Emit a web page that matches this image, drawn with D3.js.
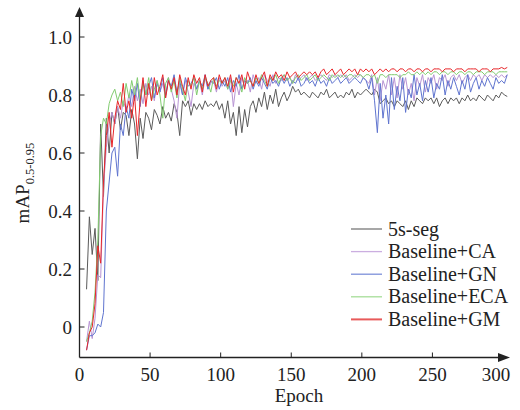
<!DOCTYPE html>
<html>
<head>
<meta charset="utf-8">
<script src="https://cdn.jsdelivr.net/npm/d3@7"></script>
<style>
  body { margin: 0; background: #fff; }
</style>
</head>
<body>
<div id="vis"></div>
<script>
// epochs sampled every 2, from 5 to 303
const epochs = d3.range(5, 304, 2);

const seg = [
  0.13, 0.38, 0.25, 0.34, 0.16, 0.70, 0.45, 0.72, 0.60, 0.74,
  0.70, 0.76, 0.68, 0.74, 0.73, 0.66, 0.75, 0.70, 0.58, 0.72,
  0.65, 0.74, 0.72, 0.68, 0.75, 0.73, 0.70, 0.76, 0.72, 0.74,
  0.71, 0.77, 0.74, 0.66, 0.78, 0.76, 0.78, 0.73, 0.77, 0.75,
  0.77, 0.75, 0.78, 0.76, 0.77, 0.76, 0.78, 0.75, 0.77, 0.72,
  0.78, 0.70, 0.74, 0.66, 0.76, 0.67, 0.75, 0.69, 0.76, 0.78,
  0.74, 0.79, 0.76, 0.81, 0.75, 0.80, 0.77, 0.82, 0.76, 0.79,
  0.81, 0.78, 0.80, 0.83, 0.81, 0.82, 0.80, 0.81, 0.80, 0.79,
  0.81, 0.80, 0.79, 0.81, 0.80, 0.82, 0.79, 0.80, 0.81, 0.79,
  0.80, 0.79, 0.81, 0.80, 0.82, 0.79, 0.81, 0.80, 0.81, 0.82,
  0.81, 0.80, 0.82, 0.81, 0.77, 0.78, 0.79, 0.77, 0.78, 0.76,
  0.78, 0.77, 0.76, 0.78, 0.75, 0.78, 0.76, 0.79, 0.78, 0.77,
  0.79, 0.78, 0.79, 0.77, 0.79, 0.76, 0.78, 0.79, 0.77, 0.79,
  0.78, 0.79, 0.77, 0.79, 0.78, 0.80, 0.78, 0.79, 0.78, 0.80,
  0.79, 0.78, 0.80, 0.79, 0.78, 0.80, 0.79, 0.81, 0.80, 0.795
];
const ca = [
  -0.05, 0.02, -0.04, 0.03, 0.18, 0.17, 0.48, 0.62, 0.70, 0.74,
  0.70, 0.76, 0.72, 0.78, 0.75, 0.80, 0.76, 0.83, 0.78, 0.82,
  0.77, 0.84, 0.80, 0.83, 0.78, 0.85, 0.81, 0.84, 0.79, 0.86,
  0.82, 0.78, 0.72, 0.84, 0.80, 0.85, 0.81, 0.76, 0.84, 0.82,
  0.85, 0.80, 0.86, 0.82, 0.84, 0.85, 0.81, 0.86, 0.83, 0.85,
  0.82, 0.86, 0.76, 0.84, 0.80, 0.86, 0.83, 0.85, 0.81, 0.87,
  0.84, 0.86, 0.82, 0.87, 0.85, 0.83, 0.87, 0.84, 0.86, 0.85,
  0.87, 0.85, 0.86, 0.84, 0.87, 0.85, 0.86, 0.87, 0.85, 0.86,
  0.87, 0.85, 0.86, 0.87, 0.86, 0.85, 0.87, 0.86, 0.87, 0.86,
  0.87, 0.86, 0.87, 0.85, 0.86, 0.87, 0.86, 0.87, 0.86, 0.85,
  0.84, 0.87, 0.80, 0.86, 0.78, 0.85, 0.82, 0.87, 0.80, 0.86,
  0.79, 0.87, 0.82, 0.86, 0.80, 0.84, 0.78, 0.86, 0.83, 0.87,
  0.81, 0.86, 0.84, 0.87, 0.82, 0.86, 0.85, 0.87, 0.83, 0.86,
  0.87, 0.85, 0.87, 0.84, 0.86, 0.87, 0.85, 0.87, 0.86, 0.87,
  0.85, 0.87, 0.86, 0.87, 0.86, 0.87, 0.86, 0.87, 0.86, 0.87
];
const gn = [
  -0.08, -0.03, -0.03, -0.02, 0.01, 0.00, 0.05, 0.40, 0.50, 0.60,
  0.62, 0.52, 0.70, 0.66, 0.76, 0.72, 0.82, 0.78, 0.84, 0.76,
  0.85, 0.80, 0.83, 0.86, 0.79, 0.84, 0.81, 0.86, 0.80, 0.85,
  0.83, 0.87, 0.81, 0.85, 0.80, 0.86, 0.83, 0.84, 0.86, 0.82,
  0.85, 0.83, 0.87, 0.82, 0.85, 0.84, 0.86, 0.82, 0.85, 0.83,
  0.86, 0.81, 0.85, 0.83, 0.87, 0.82, 0.85, 0.84, 0.86, 0.82,
  0.85, 0.83, 0.86, 0.84, 0.82, 0.86, 0.84, 0.85, 0.83, 0.86,
  0.84, 0.86, 0.83, 0.85, 0.84, 0.86, 0.83, 0.84, 0.86, 0.84,
  0.85, 0.83, 0.86, 0.84, 0.85, 0.83, 0.86, 0.84, 0.85, 0.86,
  0.84, 0.85, 0.86, 0.84, 0.85, 0.86, 0.85, 0.84, 0.86, 0.85,
  0.82, 0.86, 0.78, 0.67, 0.84, 0.72, 0.80, 0.70, 0.86, 0.75,
  0.83, 0.78, 0.86, 0.74, 0.82, 0.79, 0.87, 0.80, 0.84, 0.78,
  0.85, 0.81, 0.86, 0.79, 0.84, 0.82, 0.87, 0.80, 0.85, 0.82,
  0.86, 0.83, 0.80, 0.85, 0.82, 0.87, 0.81, 0.84, 0.86, 0.82,
  0.85, 0.83, 0.86, 0.84, 0.82, 0.86, 0.84, 0.85, 0.84, 0.87
];
const eca = [
  -0.05, -0.02, 0.02, 0.12, 0.30, 0.66, 0.72, 0.70, 0.77, 0.80,
  0.82, 0.78, 0.81, 0.76, 0.84, 0.79, 0.85, 0.80, 0.86, 0.78,
  0.84, 0.80, 0.86, 0.78, 0.82, 0.85, 0.80, 0.72, 0.84, 0.86,
  0.81, 0.85, 0.79, 0.86, 0.82, 0.78, 0.85, 0.83, 0.86, 0.80,
  0.85, 0.82, 0.86, 0.84, 0.81, 0.86, 0.83, 0.85, 0.84, 0.86,
  0.82, 0.85, 0.83, 0.86, 0.84, 0.81, 0.86, 0.84, 0.85, 0.83,
  0.86, 0.84, 0.87, 0.85, 0.83, 0.86, 0.85, 0.87, 0.84, 0.86,
  0.87, 0.85, 0.86, 0.84, 0.86, 0.87, 0.85, 0.86, 0.87, 0.85,
  0.86, 0.87, 0.85, 0.86, 0.87, 0.86, 0.85, 0.87, 0.86, 0.87,
  0.86, 0.87, 0.86, 0.87, 0.87, 0.86, 0.87, 0.87, 0.86, 0.87,
  0.87, 0.86, 0.87, 0.84, 0.87, 0.87, 0.86, 0.87, 0.87, 0.87,
  0.87, 0.86, 0.87, 0.87, 0.88, 0.87, 0.87, 0.88, 0.87, 0.88,
  0.87, 0.88, 0.87, 0.88, 0.88, 0.87, 0.88, 0.88, 0.87, 0.88,
  0.88, 0.87, 0.88, 0.88, 0.87, 0.88, 0.88, 0.87, 0.88, 0.88,
  0.88, 0.87, 0.88, 0.88, 0.88, 0.87, 0.88, 0.88, 0.88, 0.88
];
const gm = [
  -0.08, -0.02, 0.00, 0.08, 0.28, 0.22, 0.50, 0.66, 0.74, 0.62,
  0.72, 0.78, 0.75, 0.84, 0.74, 0.78, 0.72, 0.80, 0.66, 0.78,
  0.86, 0.76, 0.84, 0.78, 0.86, 0.80, 0.83, 0.87, 0.79, 0.85,
  0.82, 0.86, 0.80, 0.87, 0.83, 0.80, 0.86, 0.82, 0.87, 0.84,
  0.86, 0.81, 0.87, 0.83, 0.85, 0.86, 0.82, 0.87, 0.84, 0.86,
  0.83, 0.87, 0.81, 0.86, 0.84, 0.87, 0.82, 0.88, 0.85, 0.83,
  0.87, 0.84, 0.86, 0.88, 0.83, 0.87, 0.85, 0.88, 0.86, 0.87,
  0.85, 0.88, 0.86, 0.87, 0.88, 0.86, 0.87, 0.88, 0.87, 0.88,
  0.87, 0.88, 0.86, 0.88, 0.89, 0.87, 0.88, 0.89, 0.87, 0.88,
  0.89, 0.87, 0.88, 0.89, 0.88, 0.89, 0.87, 0.89, 0.88, 0.89,
  0.88, 0.89, 0.87, 0.88, 0.89, 0.88, 0.89, 0.88, 0.89, 0.89,
  0.88, 0.89, 0.89, 0.88, 0.89, 0.89, 0.88, 0.89, 0.89, 0.88,
  0.89, 0.89, 0.88, 0.89, 0.89, 0.89, 0.88, 0.89, 0.89, 0.89,
  0.88, 0.89, 0.89, 0.89, 0.88, 0.89, 0.89, 0.89, 0.89, 0.88,
  0.89, 0.89, 0.89, 0.88, 0.89, 0.89, 0.89, 0.895, 0.89, 0.895
];

const seriesNames = ['5s-seg', 'Baseline+CA', 'Baseline+GN', 'Baseline+ECA', 'Baseline+GM'];
const seriesValues = [seg, ca, gn, eca, gm];
const colors = ['#5a5a5a', '#b894d4', '#5f74cf', '#82cc70', '#e8262a'];
const legendColors = ['#777777', '#cbaee0', '#7d90da', '#a6dd98', '#e85a5a'];
const xTicks = [0, 50, 100, 150, 200, 250, 300];
const yTicks = [0, 0.2, 0.4, 0.6, 0.8, 1.0];

const serif = '"Liberation Serif", "Times New Roman", Times, serif';
const width = 520, height = 410;
const svg = d3.select('#vis').append('svg')
  .attr('width', width)
  .attr('height', height)
  .attr('font-family', serif);

const x = d3.scaleLinear().domain([0, 300]).range([79.5, 503]);
const y = d3.scaleLinear().domain([0, 1]).range([327, 37]);
const axisY = 357.5;

// lines
const line = d3.line()
  .x((d, i) => x(epochs[i]))
  .y(d => y(d));

svg.selectAll('path.series')
  .data(seriesValues)
  .enter()
  .append('path')
  .attr('class', 'series')
  .attr('d', d => line(d))
  .attr('fill', 'none')
  .attr('stroke', (d, i) => colors[i])
  .attr('stroke-width', 1)
  .attr('stroke-linejoin', 'round');

// axes with arrows
svg.append('line')
  .attr('x1', x(0)).attr('x2', x(0))
  .attr('y1', axisY).attr('y2', 14)
  .attr('stroke', '#222').attr('stroke-width', 1.3);
svg.append('path')
  .attr('d', `M${x(0)},7 L${x(0) - 4.5},17 L${x(0) + 4.5},17 Z`)
  .attr('fill', '#222');
svg.append('line')
  .attr('x1', x(0)).attr('x2', 500)
  .attr('y1', axisY).attr('y2', axisY)
  .attr('stroke', '#222').attr('stroke-width', 1.3);
svg.append('path')
  .attr('d', `M510,${axisY} L498,${axisY - 4.5} L498,${axisY + 4.5} Z`)
  .attr('fill', '#222');

// y ticks
svg.selectAll('line.ytick')
  .data(yTicks)
  .enter()
  .append('line')
  .attr('class', 'ytick')
  .attr('x1', x(0)).attr('x2', x(0) + 5)
  .attr('y1', d => y(d)).attr('y2', d => y(d))
  .attr('stroke', '#222').attr('stroke-width', 1);

svg.selectAll('text.ylab')
  .data(yTicks)
  .enter()
  .append('text')
  .attr('class', 'ylab')
  .attr('x', 72)
  .attr('y', d => y(d))
  .attr('dy', '0.35em')
  .attr('text-anchor', 'end')
  .attr('font-family', serif)
  .attr('font-size', 19)
  .attr('fill', '#222')
  .text(d => d === 0 ? '0' : d3.format('.1f')(d));

// x ticks
svg.selectAll('line.xtick')
  .data(xTicks.slice(1, -1))
  .enter()
  .append('line')
  .attr('class', 'xtick')
  .attr('x1', d => x(d)).attr('x2', d => x(d))
  .attr('y1', axisY).attr('y2', axisY - 5)
  .attr('stroke', '#222').attr('stroke-width', 1);

svg.selectAll('text.xlab')
  .data(xTicks)
  .enter()
  .append('text')
  .attr('class', 'xlab')
  .attr('x', d => x(d))
  .attr('dx', d => d === 300 ? -7 : 0)
  .attr('y', 381)
  .attr('text-anchor', 'middle')
  .attr('font-family', serif)
  .attr('font-size', 19)
  .attr('fill', '#222')
  .text(d => d);

// axis titles
svg.append('text')
  .attr('x', 299)
  .attr('y', 402)
  .attr('text-anchor', 'middle')
  .attr('font-family', serif)
  .attr('font-size', 19)
  .attr('fill', '#222')
  .text('Epoch');

const yTitle = svg.append('text')
  .attr('transform', 'translate(29,183) rotate(-90)')
  .attr('text-anchor', 'middle')
  .attr('font-family', serif)
  .attr('font-size', 19)
  .attr('fill', '#222');
yTitle.append('tspan').text('mAP');
yTitle.append('tspan')
  .attr('dy', 5)
  .attr('font-size', 12.5)
  .text('0.5-0.95');

// legend
const legend = svg.append('g');
seriesNames.forEach((name, i) => {
  const ly = 229 + i * 22.6;
  legend.append('line')
    .attr('x1', 351).attr('x2', 382)
    .attr('y1', ly).attr('y2', ly)
    .attr('stroke', legendColors[i])
    .attr('stroke-width', i === 4 ? 2 : 1.3);
  legend.append('text')
    .attr('x', 388)
    .attr('y', ly)
    .attr('dy', '0.33em')
    .attr('font-family', serif)
    .attr('font-size', 20)
    .attr('fill', '#222')
    .text(name);
});
</script>
</body>
</html>
